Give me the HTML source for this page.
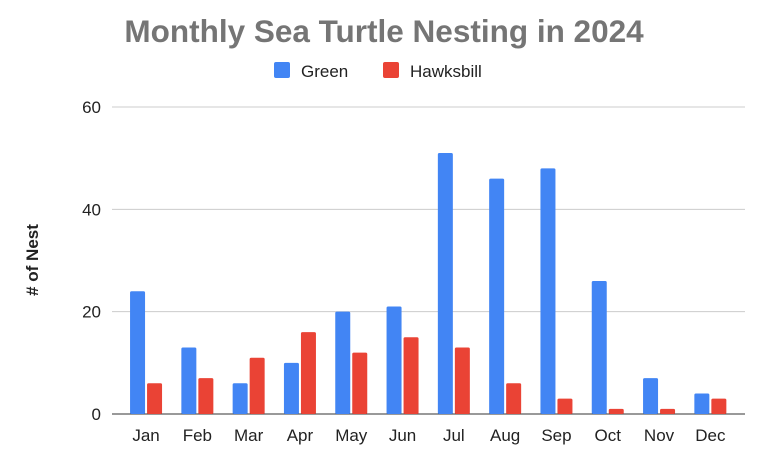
<!DOCTYPE html>
<html><head><meta charset="utf-8"><style>
body{margin:0;background:#fff;font-family:"Liberation Sans",Arial,sans-serif}
svg{display:block}
</style></head><body>
<svg id="chart" width="768" height="460">
<text x="384" y="42" text-anchor="middle" font-size="31.5" font-weight="bold" fill="#757575">Monthly Sea Turtle Nesting in 2024</text>
<g>
<rect x="274" y="62" width="16" height="16" rx="2" fill="#4285f4"/>
<text x="301" y="77" font-size="17" fill="#222">Green</text>
<rect x="383" y="62" width="16" height="16" rx="2" fill="#ea4335"/>
<text x="410" y="77" font-size="17" fill="#222">Hawksbill</text>
</g>
<text transform="translate(38,260) rotate(-90)" text-anchor="middle" font-size="17" font-weight="bold" fill="#222"># of Nest</text>
<g id="grid"></g><g id="bars"></g><g id="xl"></g>
</svg>
<script>
const categories=["Jan","Feb","Mar","Apr","May","Jun","Jul","Aug","Sep","Oct","Nov","Dec"];
const green=[24,13,6,10,20,21,51,46,48,26,7,4];
const hawksbill=[6,7,11,16,12,15,13,6,3,1,1,3];
const yTicks=[0,20,40,60];
const ns="http://www.w3.org/2000/svg";
const y0=414,yTop=107,yMax=60,left=120.4,bandW=51.3;
const y=v=>y0-(v/yMax)*(y0-yTop);
const xc=i=>left+bandW*(i+0.5);
function mk(t,a,p){const e=document.createElementNS(ns,t);for(const k in a)e.setAttribute(k,a[k]);p.appendChild(e);return e;}
const grid=document.getElementById('grid'),bars=document.getElementById('bars'),xl=document.getElementById('xl');
yTicks.forEach(t=>{
 const l=mk('line',{x1:112,x2:745,y1:y(t),y2:y(t),stroke:t===0?'#333':'#ccc','stroke-width':1},grid);
 
 
 const tx=mk('text',{x:101,y:y(t)+6,'text-anchor':'end','font-size':17,fill:'#222'},grid);
 tx.textContent=t;
 
 
});
categories.forEach((c,i)=>{
 const g=mk('rect',{x:xc(i)-16,y:y(green[i]),width:15,height:y0-y(green[i]),fill:'#4285f4',rx:1.5},bars);
 
 
 const h=mk('rect',{x:xc(i)+1,y:y(hawksbill[i]),width:15,height:y0-y(hawksbill[i]),fill:'#ea4335',rx:1.5},bars);
 
 
 const t=mk('text',{x:xc(i),y:441,'text-anchor':'middle','font-size':17,fill:'#222'},xl);
 t.textContent=c;
 
 
});
</script>
</body></html>
